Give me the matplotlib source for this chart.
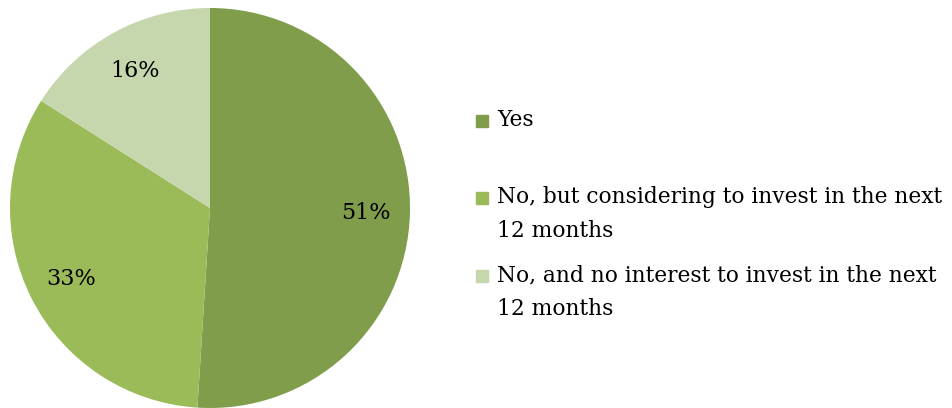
import matplotlib.pyplot as plt
from matplotlib.patches import Rectangle

# data
labels = ['Yes',
          'No, but considering to invest in the next 12 months',
          'No, and no interest to invest in the next 12 months']
shares = [51, 33, 16]
colors = ['#7f9d4a', '#9bbb59', '#c6d6ad']

plt.rcParams['font.family'] = ['DejaVu Serif']

W, H = 953, 408
fig = plt.figure(figsize=(W / 100, H / 100), dpi=100)

# pie axes: centre (210, 208), radius 200 px
ax = fig.add_axes([10 / W, 0 / H, 400 / W, 400 / H])
ax.pie(shares, colors=colors, startangle=90, counterclock=False,
       autopct='%d%%', pctdistance=0.78,
       textprops={'fontsize': 16, 'color': 'black'},
       wedgeprops={'linewidth': 0})
ax.set_xlim(-1, 1)
ax.set_ylim(-1, 1)
ax.set_aspect('equal')

# legend drawn by hand (Excel style spacing)
rows_y = [121, 198, 276]
for lab, col, y in zip(labels, colors, rows_y):
    fig.patches.append(Rectangle((476 / W, 1 - (y + 6) / H), 12 / W, 12 / H,
                                 transform=fig.transFigure, color=col))
    txt = lab.replace(' 12 months', '\n12 months')
    fig.text(497 / W, 1 - (y - 12) / H, txt, fontsize=15.7, va='top', ha='left',
             linespacing=1.68)

fig.savefig('out.png', dpi=100)
